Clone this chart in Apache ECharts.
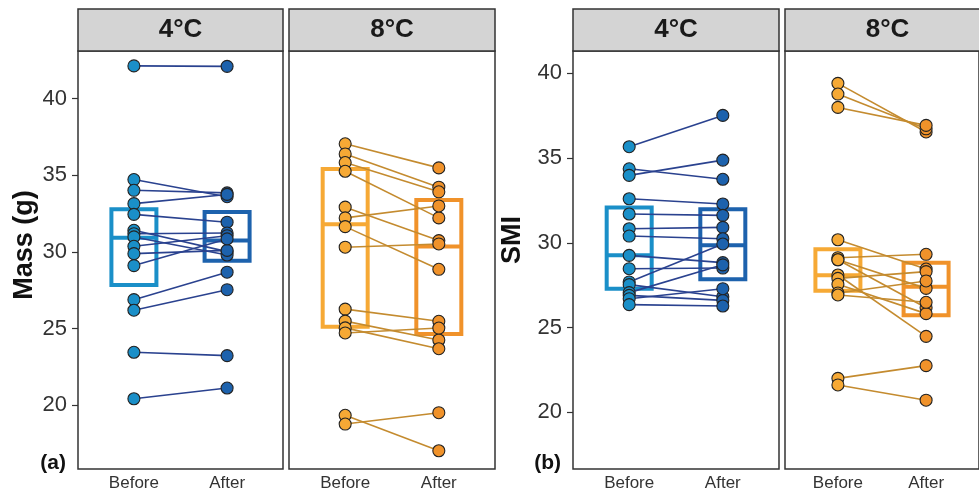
<!DOCTYPE html>
<html>
<head>
<meta charset="utf-8">
<script src="https://cdn.jsdelivr.net/npm/echarts@6/dist/echarts.min.js"></script>
<style>
  html, body { margin: 0; padding: 0; background: #fff; }
  #chart { width: 979px; height: 494px; }
</style>
</head>
<body>
<div id="chart"></div>
<script>
const phases = ["Before", "After"];
const yTicks = [20, 25, 30, 35, 40];

// (a) body mass, paired before/after
const massColdBefore = [42.13, 34.72, 34.02, 33.15, 32.45, 31.41, 31.19, 30.98, 30.37, 29.89, 29.11, 26.89, 26.2, 23.46, 20.43];
const massColdAfter = [42.1, 33.6, 33.85, 33.75, 31.94, 30.02, 31.24, 29.8, 31.06, 30.1, 30.85, 28.68, 27.54, 23.24, 21.13];
const massWarmBefore = [37.05, 36.39, 35.83, 35.26, 32.92, 32.22, 31.65, 30.31, 26.27, 25.49, 25.05, 24.72, 19.35, 18.78];
const massWarmAfter = [35.48, 34.22, 33.92, 32.22, 30.74, 33.0, 28.87, 30.52, 25.48, 24.26, 23.69, 25.04, 17.04, 19.52];

// (b) scaled mass index, paired before/after
const smiColdBefore = [35.67, 34.37, 33.98, 32.6, 31.7, 30.83, 30.4, 29.26, 28.47, 27.69, 27.53, 27.06, 26.9, 26.7, 26.35];
const smiColdAfter = [37.52, 33.75, 34.88, 32.29, 31.62, 30.91, 30.24, 28.83, 28.51, 29.93, 26.82, 28.7, 26.6, 27.29, 26.27];
const smiWarmBefore = [39.41, 38.78, 37.99, 30.18, 29.12, 29.0, 29.0, 28.1, 27.9, 27.55, 27.04, 26.92, 22.0, 21.61];
const smiWarmAfter = [36.54, 36.73, 36.93, 28.45, 29.32, 27.31, 26.17, 24.48, 28.3, 25.82, 27.75, 26.49, 22.75, 20.71];

// boxes: [lower hinge, median, upper hinge] for Before, After
const massColdBoxes = [[27.85, 30.92, 32.78], [29.43, 30.75, 32.6]];
const massWarmBoxes = [[25.13, 31.8, 35.4], [24.65, 30.35, 33.39]];
const smiColdBoxes = [[27.29, 29.26, 32.09], [27.85, 29.85, 31.98]];
const smiWarmBoxes = [[27.17, 28.08, 29.62], [25.72, 27.41, 28.83]];

const COLD = { before: "#1a8fc8", after: "#1d62ad", line: "#2a428f" };
const WARM = { before: "#f6a935", after: "#f0922a", line: "#c48b2f" };

const panels = [
  { left: 78, width: 205, ymin: 15.85, ymax: 43.1, labels: true, before: massColdBefore, after: massColdAfter, boxes: massColdBoxes, pal: COLD, strip: "4°C" },
  { left: 289, width: 206, ymin: 15.85, ymax: 43.1, labels: false, before: massWarmBefore, after: massWarmAfter, boxes: massWarmBoxes, pal: WARM, strip: "8°C" },
  { left: 573, width: 206, ymin: 16.65, ymax: 41.32, labels: true, before: smiColdBefore, after: smiColdAfter, boxes: smiColdBoxes, pal: COLD, strip: "4°C" },
  { left: 785, width: 205, ymin: 16.65, ymax: 41.32, labels: false, before: smiWarmBefore, after: smiWarmAfter, boxes: smiWarmBoxes, pal: WARM, strip: "8°C" },
];

const TOP = 51, HEIGHT = 418;

const grid = [], xAxis = [], yAxis = [], series = [], graphic = [];

panels.forEach((p, i) => {
  grid.push({
    left: p.left, top: TOP, width: p.width, height: HEIGHT,
    show: true, borderColor: "#333", borderWidth: 1.5, backgroundColor: "transparent",
  });
  xAxis.push({
    type: "value", gridIndex: i, min: -0.6, max: 1.6, position: "bottom",
    axisLine: { show: false, onZero: false }, splitLine: { show: false },
    axisTick: { show: false },
    axisLabel: {
      customValues: [0, 1], formatter: (v) => phases[Math.round(v)],
      fontSize: 17, color: "#333", margin: 6, fontFamily: "Liberation Sans",
    },
  });
  yAxis.push({
    type: "value", gridIndex: i, min: p.ymin, max: p.ymax, position: "left",
    axisLine: { show: false, onZero: false }, splitLine: { show: false },
    axisTick: { show: p.labels, customValues: yTicks, length: 6, lineStyle: { color: "#333", width: 1.2 } },
    axisLabel: {
      show: p.labels, customValues: yTicks, fontSize: 22, color: "#333",
      margin: 11, fontFamily: "Liberation Sans",
    },
  });

  // boxes (hinges + median)
  series.push({
    type: "custom", xAxisIndex: i, yAxisIndex: i, silent: true, z: 1,
    data: p.boxes.map((b, k) => [k, b[0], b[1], b[2]]),
    encode: { x: 0, y: [1, 2, 3] },
    renderItem(params, api) {
      const x = api.value(0);
      const lo = api.coord([x, api.value(1)]);
      const mid = api.coord([x, api.value(2)]);
      const hi = api.coord([x, api.value(3)]);
      const w = 45;
      const col = params.dataIndex === 0 ? p.pal.before : p.pal.after;
      return {
        type: "group",
        children: [
          { type: "rect", shape: { x: lo[0] - w / 2, y: hi[1], width: w, height: lo[1] - hi[1] },
            style: { fill: "none", stroke: col, lineWidth: 4 } },
          { type: "line", shape: { x1: lo[0] - w / 2, y1: mid[1], x2: lo[0] + w / 2, y2: mid[1] },
            style: { stroke: col, lineWidth: 4 } },
        ],
      };
    },
  });

  // paired lines
  series.push({
    type: "lines", coordinateSystem: "cartesian2d", xAxisIndex: i, yAxisIndex: i,
    silent: true, z: 2,
    lineStyle: { color: p.pal.line, width: 1.6, opacity: 1 },
    data: p.before.map((b, k) => ({ coords: [[0, b], [1, p.after[k]]] })),
  });

  // points
  [[0, p.before, p.pal.before], [1, p.after, p.pal.after]].forEach(([x, vals, col]) => {
    series.push({
      type: "scatter", xAxisIndex: i, yAxisIndex: i, z: 3, silent: true,
      symbolSize: 12,
      itemStyle: { color: col, borderColor: "#222", borderWidth: 1.1, opacity: 1 },
      data: vals.map((v) => [x, v]),
    });
  });

  // facet strip
  graphic.push({
    type: "rect", z: 10,
    shape: { x: p.left, y: 9, width: p.width, height: TOP - 9 },
    style: { fill: "#d4d4d4", stroke: "#333", lineWidth: 1.5 },
  });
  graphic.push({
    type: "text", z: 11, x: p.left + p.width / 2, y: 30,
    style: { text: p.strip, fill: "#1a1a1a", font: "bold 26px 'Liberation Sans'", align: "center", verticalAlign: "middle" },
  });
});

graphic.push(
  { type: "text", x: 25, y: 245, rotation: Math.PI / 2,
    style: { text: "Mass (g)", fill: "#111", font: "bold 27px 'Liberation Sans'", align: "center", verticalAlign: "middle" } },
  { type: "text", x: 513, y: 240, rotation: Math.PI / 2,
    style: { text: "SMI", fill: "#111", font: "bold 27px 'Liberation Sans'", align: "center", verticalAlign: "middle" } },
  { type: "text", x: 66, y: 463,
    style: { text: "(a)", fill: "#111", font: "bold 21px 'Liberation Sans'", align: "right", verticalAlign: "middle" } },
  { type: "text", x: 561, y: 463,
    style: { text: "(b)", fill: "#111", font: "bold 21px 'Liberation Sans'", align: "right", verticalAlign: "middle" } }
);

const chart = echarts.init(document.getElementById("chart"), null, { renderer: "canvas" });
chart.setOption({
  animation: false,
  backgroundColor: "#fff",
  grid, xAxis, yAxis, series, graphic,
});
</script>
</body>
</html>
